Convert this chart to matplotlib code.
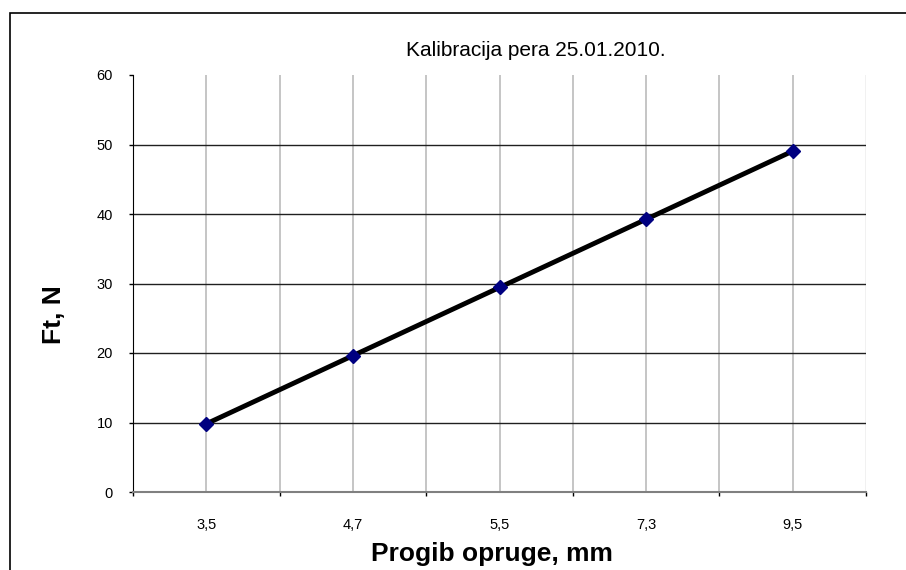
import matplotlib
matplotlib.use("Agg")
import matplotlib.pyplot as plt
from matplotlib.patches import Rectangle

# calibration data: deflection (category labels) vs force
progib = ["3,5", "4,7", "5,5", "7,3", "9,5"]
sila = [9.81, 19.62, 29.43, 39.24, 49.05]
y_ticks = [0, 10, 20, 30, 40, 50, 60]

plt.rcParams["font.family"] = ["Liberation Sans", "DejaVu Sans"]

W, H = 906, 570
fig = plt.figure(figsize=(W / 100, H / 100), dpi=100)
ax = fig.add_axes([133 / W, 1 - 492 / H, (866 - 133) / W, (492 - 75) / H])

n = len(progib)
xs = list(range(n))

# outer chart frame (clipped by the figure edge on the right and bottom)
fig.patches.append(Rectangle((10 / W, -0.2), 1.5, 1.2 - 13 / H, transform=fig.transFigure,
                             fill=False, edgecolor="black", linewidth=1.2))

ax.set_xlim(-0.5, n - 0.5)
ax.set_ylim(0, 60)

# vertical grid on category boundaries and centres
for i in range(n + 1):
    col = "#f0f0f0" if i == n else "#c0c0c0"
    ax.axvline(i - 0.5, color=col, linewidth=1.3, zorder=0)
for x in xs:
    ax.axvline(x, color="#c0c0c0", linewidth=1.3, zorder=0)
# horizontal grid
for yv in y_ticks[1:-1]:
    ax.axhline(yv, color="#202020", linewidth=1.0, zorder=1)

ax.plot(xs, sila, color="black", linewidth=3.5, zorder=3)
ax.plot(xs, sila, linestyle="none", marker="D", markersize=7,
        markerfacecolor="#000080", markeredgecolor="#000080", zorder=4)

for side in ["top", "right"]:
    ax.spines[side].set_visible(False)
ax.spines["left"].set_color("black")
ax.spines["bottom"].set_color("#808080")
ax.spines["bottom"].set_linewidth(1.5)

ax.set_yticks(y_ticks)
ax.tick_params(axis="y", direction="out", length=3, width=1, labelsize=10.5, pad=11.5)
ax.set_xticks([i - 0.5 for i in range(n + 1)])
ax.set_xticklabels([])
ax.tick_params(axis="x", direction="out", length=3, width=1, color="black")
ax.set_xticks(xs, minor=True)
ax.set_xticklabels(progib, minor=True)
ax.tick_params(axis="x", which="minor", length=0, labelsize=10.5, pad=19)

fig.text(536 / W, 1 - 51 / H, "Kalibracija pera 25.01.2010.", ha="center", va="center", fontsize=15)
fig.text(492 / W, 1 - 554 / H, "Progib opruge, mm", ha="center", va="center",
         fontsize=19, fontweight="bold")
fig.text(54 / W, 1 - 315 / H, "Ft, N", ha="center", va="center", rotation=90,
         fontsize=19, fontweight="bold")

fig.savefig("out.png", dpi=100)
